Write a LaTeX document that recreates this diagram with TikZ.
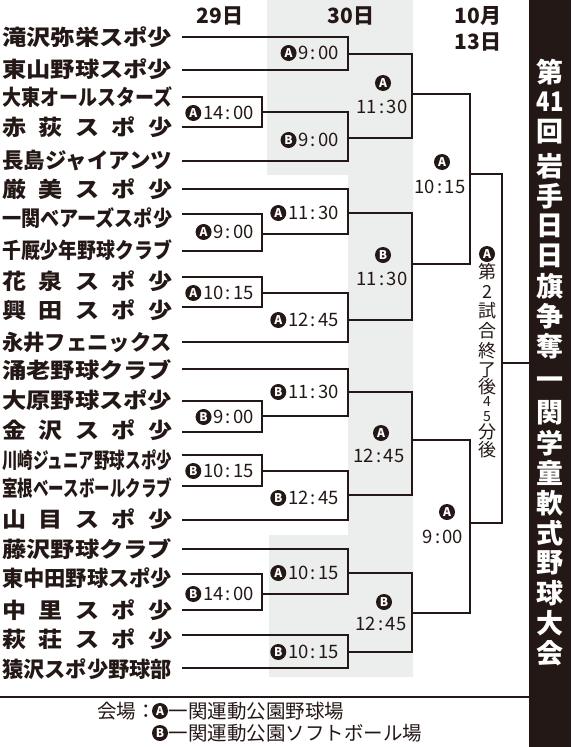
\documentclass[tikz,border=0pt]{standalone}
\usepackage{fontspec}
\usepackage{graphicx}
\setmainfont{Noto Sans CJK JP}
\definecolor{bggray}{RGB}{236,237,237}
\definecolor{ink}{RGB}{35,24,21}
\newcommand\tmx[2]{#1\kern2.2pt:\kern2.2pt#2}
\newcommand\wide[1]{\resizebox{170pt}{\height}{#1}}
\newcommand\sx[1]{\scalebox{1.12}[1]{#1}}
\newcommand\five[5]{\makebox[170pt][s]{\sx{#1}\hfill\sx{#2}\hfill\sx{#3}\hfill\sx{#4}\hfill\sx{#5}}}
\tikzset{
  line/.style={line width=1.6pt, draw=ink},
  team/.style={anchor=west, inner sep=0pt, text=ink, font=\fontsize{21.5}{21.5}\selectfont\bfseries},
  tlab/.style={anchor=east, inner sep=0pt, text=ink, font=\fontsize{18.5}{18.5}\selectfont},
  clab/.style={inner sep=0pt, text=ink, font=\fontsize{18.5}{18.5}\selectfont},
  circ/.style={circle, fill=ink, text=white, inner sep=0pt, minimum size=16pt, font=\fontsize{12}{12}\selectfont\bfseries},
  head/.style={inner sep=0pt, text=ink, font=\fontsize{21}{21}\selectfont\bfseries},
  ttl/.style={inner sep=0pt, text=white, font=\fontsize{27}{27}\selectfont\bfseries},
  vch/.style={inner sep=0pt, text=ink, font=\fontsize{18}{18}\selectfont},
  vdig/.style={inner sep=0pt, text=ink, font=\fontsize{14}{14}\selectfont},
  legend/.style={anchor=west, inner sep=0pt, text=ink, font=\fontsize{19.5}{19.5}\selectfont},
}
\begin{document}
\begin{tikzpicture}[x=1pt,y=-1pt]
\useasboundingbox (0,0) rectangle (571,747);
% grey background for 30th
\fill[bggray] (267,0) -- (413,0) -- (413,677) -- (269,677) -- (269,535) -- (348,535) -- (348,175) -- (267,175) -- cycle;
% title bar
\node[fill=ink, minimum width=42pt, minimum height=747pt, inner sep=0pt] (title) at (550,373.5) {};
% headers
\node[head] (h29) at (220,16) {29日};
\node[head] (h30) at (351,16) {30日};
\node[head] (h10) at (478,16) {10月};
\node[head] (h13) at (478,42) {13日};
% teams
\node[team] (t1) at (2,37) {\wide{滝沢弥栄スポ少}};
\node[team] (t2) at (2,69) {\wide{東山野球スポ少}};
\node[team] (t3) at (2,97) {\wide{大東オールスターズ}};
\node[team] (t4) at (2,127) {\five{赤}{荻}{ス}{ポ}{少}};
\node[team] (t5) at (2,160) {\wide{長島ジャイアンツ}};
\node[team] (t6) at (2,189) {\five{厳}{美}{ス}{ポ}{少}};
\node[team] (t7) at (2,218) {\wide{一関ベアーズスポ少}};
\node[team] (t8) at (2,250) {\wide{千厩少年野球クラブ}};
\node[team] (t9) at (2,281) {\five{花}{泉}{ス}{ポ}{少}};
\node[team] (t10) at (2,310) {\five{興}{田}{ス}{ポ}{少}};
\node[team] (t11) at (2,342) {\wide{永井フェニックス}};
\node[team] (t12) at (2,370) {\wide{涌老野球クラブ}};
\node[team] (t13) at (2,400) {\wide{大原野球スポ少}};
\node[team] (t14) at (2,430) {\five{金}{沢}{ス}{ポ}{少}};
\node[team] (t15) at (2,460) {\wide{川崎ジュニア野球スポ少}};
\node[team] (t16) at (2,488) {\wide{室根ベースボールクラブ}};
\node[team] (t17) at (2,519) {\five{山}{目}{ス}{ポ}{少}};
\node[team] (t18) at (2,549) {\wide{藤沢野球クラブ}};
\node[team] (t19) at (2,578) {\wide{東中田野球スポ少}};
\node[team] (t20) at (2,610) {\five{中}{里}{ス}{ポ}{少}};
\node[team] (t21) at (2,639) {\five{萩}{荘}{ス}{ポ}{少}};
\node[team] (t22) at (2,669) {\wide{猿沢スポ少野球部}};
% line starts
\coordinate (s1) at (182,37);
\coordinate (s2) at (182,70);
\coordinate (s3) at (182,97);
\coordinate (s4) at (182,127);
\coordinate (s5) at (182,161);
\coordinate (s6) at (182,189);
\coordinate (s7) at (182,214);
\coordinate (s8) at (182,251);
\coordinate (s9) at (182,277);
\coordinate (s10) at (182,307);
\coordinate (s11) at (182,342);
\coordinate (s12) at (182,369);
\coordinate (s13) at (182,401);
\coordinate (s14) at (182,432);
\coordinate (s15) at (182,455);
\coordinate (s16) at (182,486);
\coordinate (s17) at (182,520);
\coordinate (s18) at (182,549);
\coordinate (s19) at (182,574);
\coordinate (s20) at (182,610);
\coordinate (s21) at (182,635);
\coordinate (s22) at (182,668);
% round 1 junctions
\coordinate (r1a) at (262,112);
\coordinate (r1b) at (262,234);
\coordinate (r1c) at (262,293);
\coordinate (r1d) at (262,416);
\coordinate (r1e) at (262,471);
\coordinate (r1f) at (262,594);
% round 2 junctions
\coordinate (j1) at (348,54);
\coordinate (j2) at (348,138);
\coordinate (j3) at (348,213);
\coordinate (j4) at (348,320);
\coordinate (j5) at (348,392);
\coordinate (j6) at (348,495);
\coordinate (j7) at (348,573);
\coordinate (j8) at (348,652);
% round 3
\coordinate (k1) at (412,94);
\coordinate (k2) at (412,264);
\coordinate (k3) at (412,440);
\coordinate (k4) at (412,613);
% semis and final
\coordinate (p1) at (470,174);
\coordinate (p2) at (470,523);
\coordinate (f) at (502,363);
% bracket lines
\draw[line] (s1) -| (j1) |- (s2);
\draw[line] (s3) -| (r1a) |- (s4);
\draw[line] (r1a) -| (j2) |- (s5);
\draw[line] (s6) -| (j3) |- (r1b);
\draw[line] (s7) -| (r1b) |- (s8);
\draw[line] (s9) -| (r1c) |- (s10);
\draw[line] (r1c) -| (j4) |- (s11);
\draw[line] (s12) -| (j5) |- (r1d);
\draw[line] (s13) -| (r1d) |- (s14);
\draw[line] (s15) -| (r1e) |- (s16);
\draw[line] (r1e) -| (j6) |- (s17);
\draw[line] (s18) -| (j7) |- (r1f);
\draw[line] (s19) -| (r1f) |- (s20);
\draw[line] (s21) -| (j8) |- (s22);
\draw[line] (j1) -| (k1) |- (j2);
\draw[line] (j3) -| (k2) |- (j4);
\draw[line] (j5) -| (k3) |- (j6);
\draw[line] (j7) -| (k4) |- (j8);
\draw[line] (k1) -| (p1) |- (k2);
\draw[line] (k3) -| (p2) |- (k4);
\draw[line] (p1) -| (f) |- (p2);
\draw[line] (f) -- (f -| title.west);
% round 1 labels (29th)
\foreach \nm/\yy/\v/\h/\m in {la1/113/A/14/00, la2/232/A/9/00, la3/293/A/10/15, la4/417/B/9/00, la5/471/B/10/15, la6/594/B/14/00}{
  \node[tlab] (\nm t) at (254,\yy) {\tmx{\h}{\m}};
  \node[circ, anchor=east] (\nm c) at ([xshift=-1.5pt]\nm t.west) {\v};
}
% round 2 labels (30th)
\foreach \nm/\yy/\v/\h/\m in {lb1/53/A/9/00, lb2/140/B/9/00, lb3/213/A/11/30, lb4/320/A/12/45, lb5/392/B/11/30, lb6/498/B/12/45, lb7/573/A/10/15, lb8/652/B/10/15}{
  \node[tlab] (\nm t) at (339,\yy) {\tmx{\h}{\m}};
  \node[circ, anchor=east] (\nm c) at ([xshift=-1.5pt]\nm t.west) {\v};
}
% round 3 labels
\node[circ] (lc1c) at (383,83) {A};
\node[clab] (lc1t) at (382,107) {\tmx{11}{30}};
\node[circ] (lc2c) at (383,255) {B};
\node[clab] (lc2t) at (382,279) {\tmx{11}{30}};
\node[circ] (lc3c) at (381,433) {A};
\node[clab] (lc3t) at (379,456) {\tmx{12}{45}};
\node[circ] (lc4c) at (384,602) {B};
\node[clab] (lc4t) at (381,624) {\tmx{12}{45}};
% semifinal labels
\node[circ] (ld1c) at (442,162) {A};
\node[clab] (ld1t) at (440,187) {\tmx{10}{15}};
\node[circ] (ld2c) at (447,512) {A};
\node[clab] (ld2t) at (443,537) {\tmx{9}{00}};
% final label (vertical)
\node[circ] (fl1) at (487,254) {A};
\foreach \ch/\yy [count=\i from 2] in {第/272,2/292,試/311,合/331,終/351,了/370,後/386.5}
  \node[vch] (fl\i) at (487,\yy) {\ch};
\node[vdig] (fl9) at (487,401.5) {4};
\node[vdig] (fl10) at (487,416.5) {5};
\node[vch] (fl11) at (487,432) {分};
\node[vch] (fl12) at (487,450) {後};
% title (vertical)
\foreach \ch/\yy [count=\i] in {第/72,{\scalebox{0.82}[1]{41}}/102,回/132,岩/166,手/196,日/226,日/256,旗/286,争/316,奪/346,一/383,関/413,学/443,童/473,軟/503,式/533,野/563,球/593,大/623,会/653}
  \node[ttl] (tt\i) at (550,\yy) {\ch};
% legend
\coordinate (sepL) at (0,697);
\draw[line] (sepL) -- (sepL -| title.west);
\node[legend] (lg0) at (97,711) {会場：};
\node[circ] (lg1c) at (160,711) {A};
\node[legend] (lg1) at (168.5,711) {一関運動公園野球場};
\node[circ] (lg2c) at (160,733) {B};
\node[legend] (lg2) at (168.5,733) {一関運動公園ソフトボール場};
\end{tikzpicture}
\end{document}
